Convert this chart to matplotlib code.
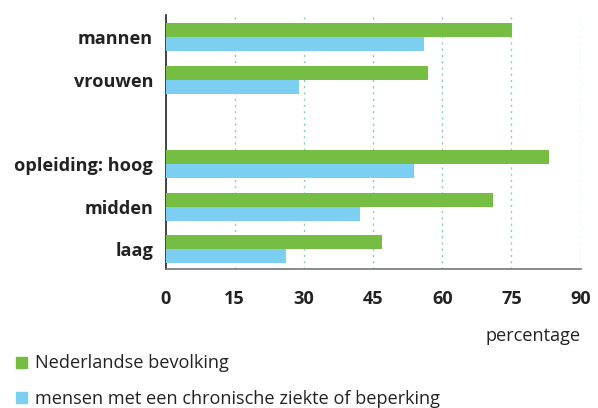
import numpy as np
import matplotlib.pyplot as plt
from matplotlib.patches import Rectangle

categories = ['mannen', 'vrouwen', 'opleiding: hoog', 'midden', 'laag']
positions = [6, 5, 3, 2, 1]
nederland = [75.1, 56.8, 83.2, 71.0, 46.9]
chronisch = [56.0, 28.9, 53.9, 42.1, 26.1]
ticks = [0, 15, 30, 45, 60, 75, 90]

green = '#76bd43'
blue = '#7dcff2'
grid_col = '#7fcfc0'
txt = '#222222'

plt.rcParams['font.family'] = ['Open Sans', 'DejaVu Sans']
fs = 13.1

fig = plt.figure(figsize=(5.98, 4.08), dpi=100)
ax = fig.add_axes([0.277, 0.341, 0.694, 0.622])

h = 0.33
pos = np.array(positions)
ax.barh(pos + h / 2, nederland, height=h, color=green, zorder=3)
ax.barh(pos - h / 2, chronisch, height=h, color=blue, zorder=3)

ax.set_xlim(0, 90)
ax.set_ylim(0.54, 6.52)
ax.set_xticks(ticks)
ax.set_xticklabels([str(t) for t in ticks], fontsize=fs, fontweight='bold', color=txt)
ax.set_yticks(pos)
ax.set_yticklabels(categories, fontsize=fs, fontweight='bold', color=txt)
ax.tick_params(axis='x', length=0, pad=15)
ax.tick_params(axis='y', length=0, pad=9)

for t in ticks[1:]:
    ax.axvline(t, color=grid_col, linestyle=(0, (1.5, 3)), linewidth=1, zorder=1)

for s in ['top', 'right']:
    ax.spines[s].set_visible(False)
ax.spines['left'].set_color(txt)
ax.spines['left'].set_linewidth(1.2)
ax.spines['bottom'].set_color('#777777')
ax.spines['bottom'].set_linewidth(1.2)

fig.text(0.971, 0.177, 'percentage', ha='right', va='center', fontsize=fs, color=txt)

fig.patches.append(Rectangle((0.027, 0.098), 0.018, 0.026, transform=fig.transFigure, color=green))
fig.text(0.0585, 0.111, 'Nederlandse bevolking', ha='left', va='center', fontsize=fs, color=txt)
fig.patches.append(Rectangle((0.027, 0.012), 0.018, 0.026, transform=fig.transFigure, color=blue))
fig.text(0.0585, 0.022, 'mensen met een chronische ziekte of beperking', ha='left', va='center', fontsize=fs, color=txt)

fig.savefig('out.png', dpi=100)
